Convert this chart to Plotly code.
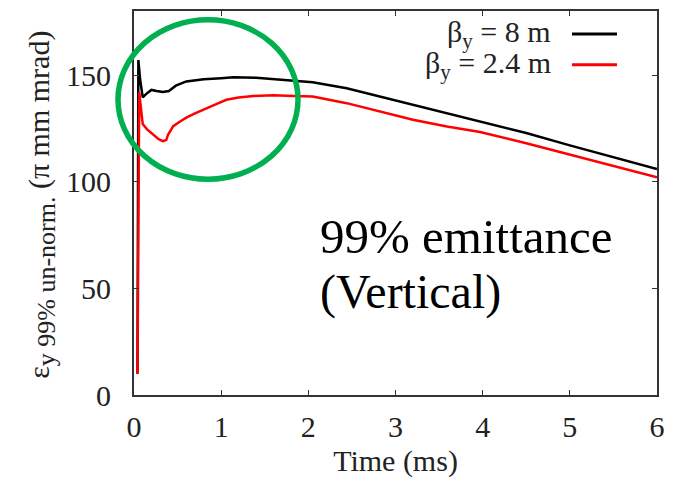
import plotly.graph_objects as go

# Data (time in ms, emittance in pi mm mrad)
t_8m = [0.04, 0.05, 0.07, 0.10, 0.15, 0.20, 0.26, 0.33, 0.40, 0.48, 0.60, 0.80, 1.00, 1.14, 1.40,
        1.67, 2.05, 2.44, 2.82, 3.20, 3.59, 3.97, 4.50, 5.00, 5.50, 5.97, 6.00]
e_8m = [10, 157, 148, 139.5, 141.5, 143, 142.5, 142, 142.5, 145, 147, 148, 148.5, 148.9, 148.7,
        147.7, 146.6, 143.8, 139.9, 136.0, 132.1, 128.3, 122.8, 117.0, 111.5, 106.2, 105.9]

t_24m = [0.04, 0.06, 0.07, 0.10, 0.15, 0.22, 0.28, 0.33, 0.37, 0.39, 0.45, 0.52, 0.60, 0.70, 0.83,
         0.95, 1.06, 1.20, 1.37, 1.60, 1.83, 2.05, 2.44, 2.82, 3.20, 3.59, 3.97, 4.50, 5.00, 5.50,
         5.97, 6.00]
e_24m = [10, 142, 138, 127, 124.5, 122, 120, 119, 119.5, 122, 126, 128, 130, 132, 134.5,
         136.5, 138.4, 139.4, 140.2, 140.5, 140.2, 139.9, 136.8, 132.9, 129.0, 125.9, 123.3, 118.0,
         112.6, 107.3, 102.3, 102.0]

x_ticks = [0, 1, 2, 3, 4, 5, 6]
y_ticks = [0, 50, 100, 150]
series_names = ["β<sub>y</sub> = 8 m", "β<sub>y</sub> = 2.4 m"]
series_colors = ["#000000", "#ff0000"]

FONT = "Liberation Serif"
AXIS_COLOR = "#333333"

fig = go.Figure()
fig.add_trace(go.Scatter(x=t_8m, y=e_8m, mode="lines", name=series_names[0],
                         line=dict(color=series_colors[0], width=2.5), showlegend=False))
fig.add_trace(go.Scatter(x=t_24m, y=e_24m, mode="lines", name=series_names[1],
                         line=dict(color=series_colors[1], width=2.5), showlegend=False))

# Custom legend (text right, sample line after the text)
legend_rows_y = [0.940, 0.860]
for name, color, yy in zip(series_names, series_colors, legend_rows_y):
    fig.add_annotation(xref="paper", yref="paper", x=0.801, y=yy, xanchor="right", yanchor="middle",
                       text=name, showarrow=False, font=dict(family=FONT, size=30, color="#222222"))
    fig.add_shape(type="line", xref="paper", yref="paper", x0=0.8375, x1=0.9235, y0=yy, y1=yy,
                  line=dict(color=color, width=3))

# Y axis title as rotated annotation
fig.add_annotation(xref="paper", yref="paper", x=-0.176, y=0.495, xanchor="center", yanchor="middle",
                   textangle=-90, showarrow=False,
                   text="ε<sub><span style='font-size:26px'>y 99% un-norm.</span></sub> (π mm mrad)",
                   font=dict(family=FONT, size=30, color="#222222"))

# Big text
fig.add_annotation(xref="paper", yref="paper", x=0.352, y=0.412, xanchor="left", yanchor="middle",
                   text="99% emittance", showarrow=False, font=dict(family=FONT, size=49, color="#000000"))
fig.add_annotation(xref="paper", yref="paper", x=0.352, y=0.267, xanchor="left", yanchor="middle",
                   text="(Vertical)", showarrow=False, font=dict(family=FONT, size=48, color="#000000"))

# Green ellipse highlight
fig.add_shape(type="circle", xref="paper", yref="paper", x0=-0.0306, x1=0.3136, y0=0.562, y1=0.977,
              line=dict(color="#00b050", width=5.5), layer="above")

# The page body has an 8 px margin, so the figure is 8 px smaller than the window
fig.update_layout(
    width=677, height=474,
    margin=dict(l=126, r=28, t=1, b=87),
    paper_bgcolor="white", plot_bgcolor="white",
    font=dict(family=FONT, size=30, color="#222222"),
)
fig.update_xaxes(range=[0, 6], tickvals=x_ticks, ticktext=[str(v) for v in x_ticks],
                 showgrid=False, zeroline=False, showline=True, linecolor=AXIS_COLOR, linewidth=2,
                 mirror="ticks", ticks="inside", ticklen=5, tickcolor=AXIS_COLOR, tickwidth=1,
                 ticklabelstandoff=4,
                 title=dict(text="Time (ms)", font=dict(family=FONT, size=30), standoff=8))
fig.update_yaxes(range=[0, 180], tickvals=y_ticks, ticktext=[str(v) for v in y_ticks],
                 showgrid=False, zeroline=False, showline=True, linecolor=AXIS_COLOR, linewidth=2,
                 mirror="ticks", ticks="inside", ticklen=5, tickcolor=AXIS_COLOR, tickwidth=1,
                 ticklabelstandoff=15)

fig.write_html("out.html")
